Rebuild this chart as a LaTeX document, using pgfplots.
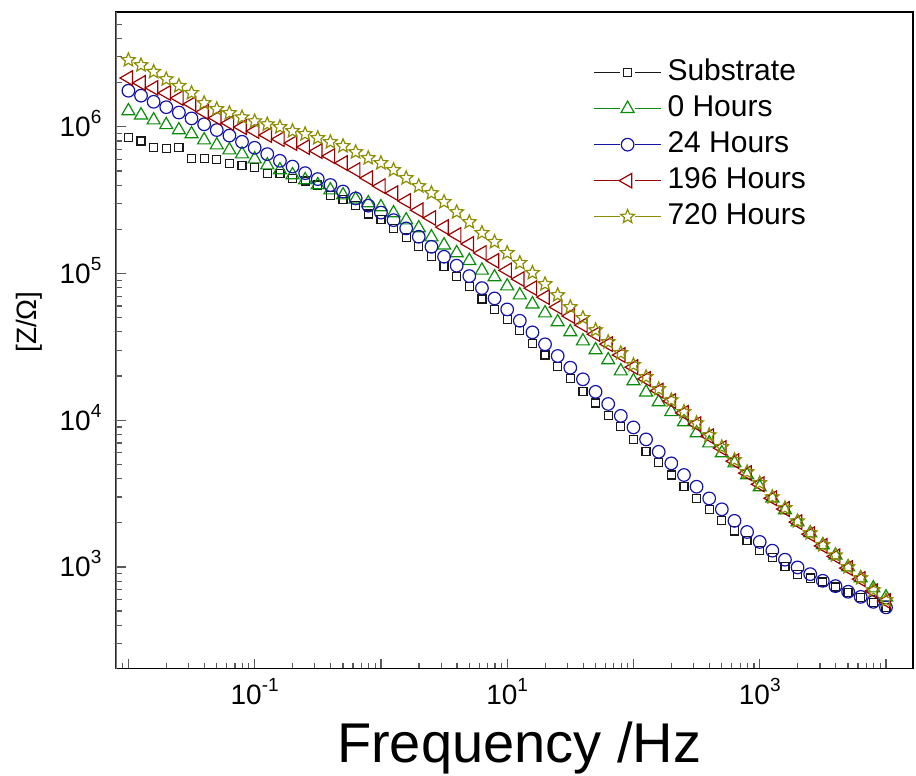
\documentclass[border=0pt]{standalone}
\usepackage{fontspec}
\setmainfont{Liberation Sans}
\usepackage{pgfplots}
\pgfplotsset{compat=1.18}
\usepackage{pgfplotstable}
\usetikzlibrary{plotmarks}

\definecolor{cSub}{RGB}{25,25,25}
\definecolor{cH0}{RGB}{10,140,10}
\definecolor{cH24}{RGB}{20,20,170}
\definecolor{cH196}{RGB}{155,0,0}
\definecolor{cH720}{RGB}{140,140,0}

% open five-pointed star
\pgfdeclareplotmark{ostar}{%
  \pgfpathmoveto{\pgfpointpolar{90}{\pgfplotmarksize}}%
  \pgfpathlineto{\pgfpointpolar{126}{0.45\pgfplotmarksize}}%
  \pgfpathlineto{\pgfpointpolar{162}{\pgfplotmarksize}}%
  \pgfpathlineto{\pgfpointpolar{198}{0.45\pgfplotmarksize}}%
  \pgfpathlineto{\pgfpointpolar{234}{\pgfplotmarksize}}%
  \pgfpathlineto{\pgfpointpolar{270}{0.45\pgfplotmarksize}}%
  \pgfpathlineto{\pgfpointpolar{306}{\pgfplotmarksize}}%
  \pgfpathlineto{\pgfpointpolar{342}{0.45\pgfplotmarksize}}%
  \pgfpathlineto{\pgfpointpolar{18}{\pgfplotmarksize}}%
  \pgfpathlineto{\pgfpointpolar{54}{0.45\pgfplotmarksize}}%
  \pgfpathclose
  \pgfusepathqstroke
}

% 10^n tick label in text font
\newcommand{\ex}[1]{10\raisebox{6.5pt}{\fontsize{9.5pt}{10pt}\selectfont #1}}

\pgfplotsset{
  leg/.style={legend image code/.code={
    \draw[##1, mark=none] (0pt,0pt) -- (13pt,0pt);
    \draw[##1, mark=none] (20.5pt,0pt) -- (33.5pt,0pt);
    \draw[##1] plot coordinates {(16.75pt,0pt)};
  }},
}

% impedance modulus vs frequency, 10 points per decade
\pgfplotstableread{
f        sub      h0       h24      h196     h720
0.01     8.47e5   1.28e6   1.76e6   2.15e6   2.85e6
0.01259  7.99e5   1.20e6   1.63e6   1.99e6   2.63e6
0.01585  7.24e5   1.11e6   1.48e6   1.84e6   2.37e6
0.01995  7.12e5   1.03e6   1.36e6   1.70e6   2.11e6
0.02512  7.24e5   9.50e5   1.25e6   1.57e6   1.90e6
0.03162  6.09e5   8.92e5   1.14e6   1.43e6   1.70e6
0.03981  6.09e5   8.11e5   1.04e6   1.26e6   1.45e6
0.05012  5.99e5   7.50e5   9.50e5   1.15e6   1.32e6
0.06310  5.63e5   6.93e5   8.71e5   1.06e6   1.24e6
0.07943  5.42e5   6.51e5   7.90e5   9.95e5   1.16e6
0.1      5.29e5   6.02e5   7.19e5   9.35e5   1.09e6
0.1259   4.81e5   5.48e5   6.51e5   8.78e5   1.04e6
0.1585   4.81e5   5.07e5   5.86e5   8.24e5   9.95e5
0.1995   4.45e5   4.69e5   5.35e5   7.74e5   9.35e5
0.2512   4.27e5   4.34e5   4.83e5   7.27e5   8.92e5
0.3162   4.01e5   4.01e5   4.40e5   6.83e5   8.38e5
0.3981   3.42e5   3.70e5   4.01e5   6.31e5   7.87e5
0.5012   3.20e5   3.42e5   3.62e5   5.66e5   7.39e5
0.6310   2.92e5   3.21e5   3.25e5   5.07e5   6.72e5
0.7943   2.54e5   3.02e5   2.90e5   4.47e5   6.12e5
1        2.33e5   2.84e5   2.60e5   3.94e5   5.66e5
1.259    2.02e5   2.58e5   2.31e5   3.53e5   5.07e5
1.585    1.75e5   2.31e5   2.03e5   3.12e5   4.47e5
1.995    1.52e5   2.04e5   1.78e5   2.70e5   3.94e5
2.512    1.31e5   1.77e5   1.52e5   2.39e5   3.53e5
3.162    1.11e5   1.56e5   1.30e5   2.07e5   3.07e5
3.981    9.50e4   1.38e5   1.13e5   1.83e5   2.62e5
5.012    8.11e4   1.22e5   9.60e4   1.59e5   2.24e5
6.310    6.70e4   1.05e5   7.95e4   1.38e5   1.89e5
7.943    5.69e4   9.45e4   6.76e4   1.22e5   1.64e5
10       4.86e4   8.20e4   5.69e4   1.05e5   1.38e5
12.59    4.11e4   7.12e4   4.76e4   9.16e4   1.18e5
15.85    3.34e4   6.18e4   3.97e4   7.95e4   1.01e5
19.95    2.78e4   5.37e4   3.29e4   6.90e4   8.47e4
25.12    2.31e4   4.67e4   2.74e4   5.90e4   7.12e4
31.62    1.93e4   3.99e4   2.28e4   5.13e4   5.90e4
39.81    1.56e4   3.46e4   1.90e4   4.45e4   4.97e4
50.12    1.31e4   3.01e4   1.56e4   3.86e4   4.11e4
63.10    1.08e4   2.57e4   1.29e4   3.30e4   3.41e4
79.43    9.02e3   2.16e4   1.07e4   2.78e4   2.87e4
100      7.43e3   1.85e4   8.93e3   2.30e4   2.38e4
125.9    6.15e3   1.55e4   7.40e3   1.91e4   1.97e4
158.5    5.13e3   1.33e4   6.09e3   1.59e4   1.63e4
199.5    4.23e3   1.14e4   5.08e3   1.35e4   1.37e4
251.2    3.52e3   9.71e3   4.23e3   1.12e4   1.14e4
316.2    2.93e3   8.17e3   3.52e3   9.40e3   9.55e3
398.1    2.47e3   6.98e3   2.93e3   7.78e3   7.91e3
501.2    2.06e3   5.97e3   2.47e3   6.46e3   6.56e3
631.0    1.76e3   5.10e3   2.06e3   5.26e3   5.35e3
794.3    1.51e3   4.23e3   1.73e3   4.36e3   4.43e3
1000     1.30e3   3.50e3   1.48e3   3.66e3   3.73e3
1259     1.16e3   2.94e3   1.29e3   2.94e3   2.99e3
1585     1.01e3   2.44e3   1.12e3   2.48e3   2.52e3
1995     8.93e2   2.02e3   9.92e2   2.02e3   2.05e3
2512     8.39e2   1.70e3   8.93e2   1.67e3   1.70e3
3162     7.90e2   1.41e3   8.04e2   1.39e3   1.41e3
3981     7.30e2   1.20e3   7.40e2   1.18e3   1.20e3
5012     6.70e2   9.97e2   6.77e2   9.82e2   9.97e2
6310     6.20e2   8.39e2   6.25e2   8.26e2   8.39e2
7943     5.75e2   7.17e2   5.78e2   6.84e2   6.95e2
10000    5.30e2   6.22e2   5.30e2   5.85e2   5.94e2
}\datatable

\begin{document}
\begin{tikzpicture}
\begin{axis}[
  name=ax,
  xmode=log, ymode=log,
  scale only axis, width=398.5pt, height=328pt,
  xmin=0.00794, xmax=16370, ymin=203, ymax=6.03e6,
  axis line style={line width=0.8pt},
  tick align=inside, xtick pos=left, ytick pos=left,
  tick style={black!65, line width=0.6pt},
  major tick length=5pt, minor tick length=3pt,
  xtick={0.01,0.1,1,10,100,1000,10000},
  xticklabels={,\ex{-1},,\ex{1},,\ex{3},},
  minor xtick={0.008,0.009,0.02,0.03,0.04,0.05,0.06,0.07,0.08,0.09,
    0.2,0.3,0.4,0.5,0.6,0.7,0.8,0.9,2,3,4,5,6,7,8,9,
    20,30,40,50,60,70,80,90,200,300,400,500,600,700,800,900,
    2000,3000,4000,5000,6000,7000,8000,9000},
  ytick={1000,10000,100000,1000000},
  yticklabels={\ex{3},\ex{4},\ex{5},\ex{6}},
  minor ytick={300,400,500,600,700,800,900,
    2000,3000,4000,5000,6000,7000,8000,9000,
    20000,30000,40000,50000,60000,70000,80000,90000,
    200000,300000,400000,500000,600000,700000,800000,900000,
    2000000,3000000,4000000,5000000},
  tick label style={font=\fontsize{14pt}{16pt}\selectfont},
  yticklabel style={anchor=base east, inner sep=0pt, xshift=-7pt, yshift=-5pt},
  xticklabel style={anchor=base, inner sep=0pt, yshift=-17.9pt},
  xlabel={Frequency /Hz},
  xlabel style={at={(axis description cs:0.506,-0.143)}, anchor=base,
    inner sep=0pt, font=\fontsize{28pt}{31pt}\selectfont},
  ylabel={[Z/Ω]},
  ylabel style={at={(axis description cs:-0.108,0.528)}, anchor=center,
    inner sep=0pt, font=\fontsize{14pt}{16pt}\selectfont},
  legend style={at={(axis description cs:0.599,0.93)}, anchor=north west,
    draw=none, fill=none, inner sep=0pt, row sep=4pt, column sep=3pt,
    font=\fontsize{15pt}{17pt}\selectfont,
    nodes={inner sep=0pt, text height=11pt, text depth=3pt}},
  legend cell align=left,
]
\addplot[cSub, only marks, mark=square, mark size=2pt,
  mark options={solid, line width=0.6pt}, leg] table[x=f, y=sub] {\datatable};
\addlegendentry{Substrate}
\addplot[cH0, only marks, mark=triangle, mark size=3.75pt,
  mark options={solid, line width=0.6pt}, leg] table[x=f, y=h0] {\datatable};
\addlegendentry{0 Hours}
\addplot[cH24, only marks, mark=o, mark size=3.15pt,
  mark options={solid, line width=0.6pt}, leg] table[x=f, y=h24] {\datatable};
\addlegendentry{24 Hours}
\addplot[cH196, only marks, mark=triangle, mark size=4.2pt,
  mark options={solid, line width=0.6pt, rotate=90}, leg] table[x=f, y=h196] {\datatable};
\addlegendentry{196 Hours}
\addplot[cH720, only marks, mark=ostar, mark size=3.6pt,
  mark options={solid, line width=0.6pt}, leg] table[x=f, y=h720] {\datatable};
\addlegendentry{720 Hours}
% grey left spine as in the original
\draw[black!55, line width=0.8pt] (rel axis cs:0,0) -- (rel axis cs:0,1);
\end{axis}
\pgfresetboundingbox
\path ([shift={(-57.85pt,-53.35pt)}]ax.south west) rectangle ([shift={(1.5pt,6.15pt)}]ax.north east);
\end{tikzpicture}
\end{document}
